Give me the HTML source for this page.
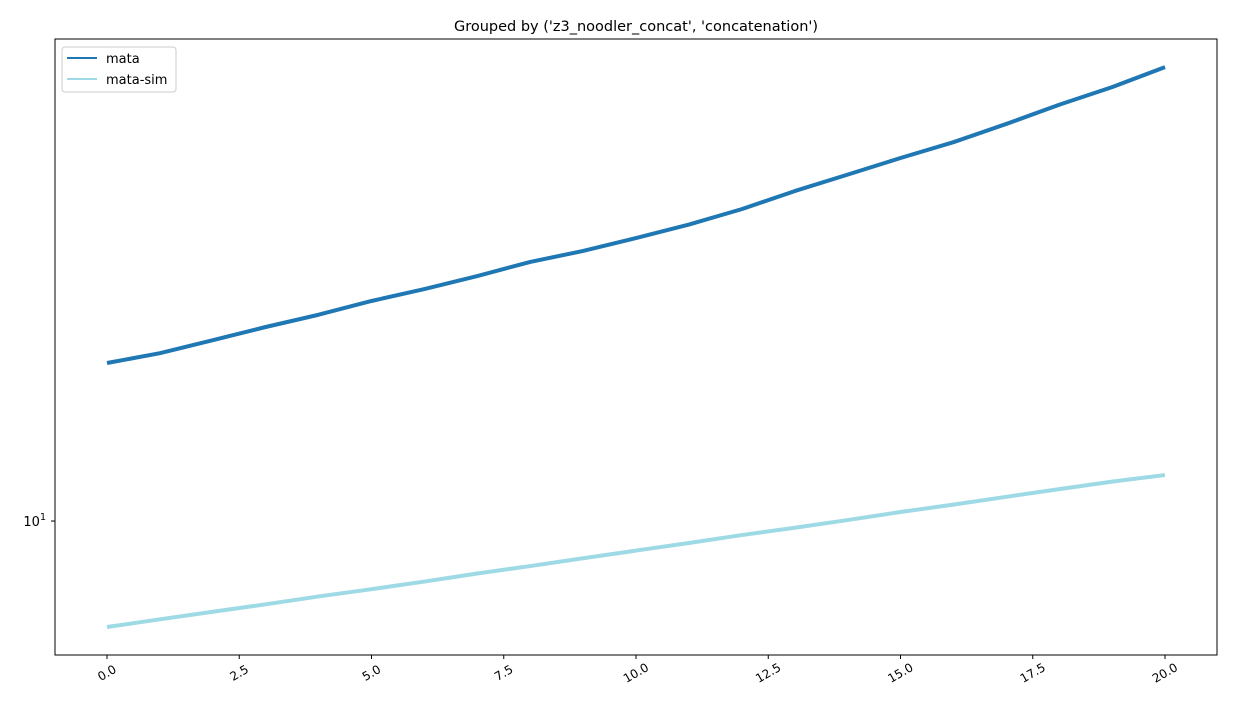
<!DOCTYPE html>
<html><head><meta charset="utf-8"><style>
body{margin:0;background:#fff;font-family:"Liberation Sans","DejaVu Sans",sans-serif}
svg text{font-family:"DejaVu Sans","Liberation Sans",sans-serif}
</style></head><body>
<svg id="c" width="1237" height="712">
<text x="636" y="31" font-size="14.5" text-anchor="middle">Grouped by ('z3_noodler_concat', 'concatenation')</text>
<g id="plot"></g>
</svg>
<script>
const xs=[0,1,2,3,4,5,6,7,8,9,10,11,12,13,14,15,16,17,18,19,20];
const mata=[13.92,14.21,14.6,15.01,15.4,15.85,16.25,16.7,17.2,17.6,18.08,18.6,19.21,19.95,20.65,21.38,22.1,22.96,23.9,24.8,25.86];
const mataSim=[8.01,8.14,8.27,8.40,8.54,8.67,8.81,8.96,9.10,9.25,9.40,9.55,9.71,9.86,10.02,10.19,10.35,10.52,10.69,10.86,11.01];
const xTicks=[0,2.5,5,7.5,10,12.5,15,17.5,20];
const xTickLabels=["0.0","2.5","5.0","7.5","10.0","12.5","15.0","17.5","20.0"];
const L=55,R=1217,T=39,B=655;
const logLo=0.8782,logHi=1.4382;
const X=v=>107+(v-0)*(1165-107)/20;
const Y=v=>B-(Math.log10(v)-logLo)/(logHi-logLo)*(B-T);
const ns="http://www.w3.org/2000/svg",g=document.getElementById('plot');
function mk(t,a){const e=document.createElementNS(ns,t);for(const k in a)e.setAttribute(k,a[k]);g.appendChild(e);return e;}
function line(data,color,name){
 const p=mk('polyline',{points:data.map((v,i)=>X(xs[i])+','+Y(v)).join(' '),fill:'none',stroke:color,'stroke-width':4,'stroke-linejoin':'round'});
 
 
}
line(mataSim,'#9edae5','series-mata-sim');
line(mata,'#1f77b4','series-mata');
const fr=mk('rect',{x:L,y:T,width:R-L,height:B-T,fill:'none',stroke:'#000','stroke-width':1});


xTicks.forEach((v,i)=>{
 const x=X(v);
 const tk=mk('line',{x1:x,x2:x,y1:B,y2:B+4,stroke:'#000'});
 
 
 const cy=B+18;
 const t=mk('text',{x:x,y:cy+4,'font-size':12,'text-anchor':'middle',transform:`rotate(-30 ${x} ${cy})`});
 t.textContent=xTickLabels[i];
 
 
});
const yt=mk('line',{x1:L-4,x2:L,y1:Y(10),y2:Y(10),stroke:'#000'});


const ytl=mk('text',{x:L-9,y:Y(10)+5,'font-size':13,'text-anchor':'end'});
ytl.innerHTML='10<tspan dy="-6" font-size="9.5">1</tspan>';


const lg=mk('rect',{x:62,y:47,width:114,height:45,rx:3,fill:'#fff',stroke:'#ccc'});


[['mata','#1f77b4',58],['mata-sim','#9edae5',79]].forEach(([n,c,y])=>{
 const l=mk('line',{x1:67,x2:97,y1:y,y2:y,stroke:c,'stroke-width':2});
 
 
 const t=mk('text',{x:106,y:y+5,'font-size':13});
 t.textContent=n;
 
 
});
</script>
</body></html>
